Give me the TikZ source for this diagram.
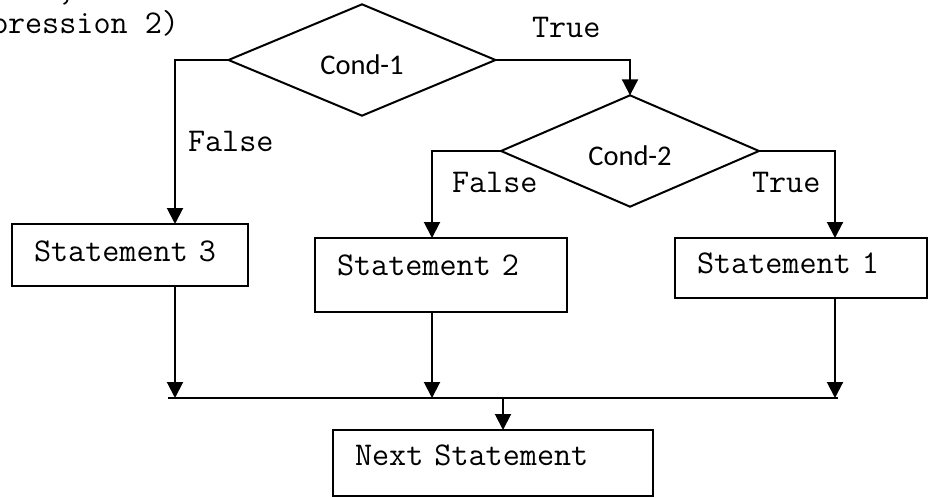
\documentclass[tikz,border=0pt]{standalone}
\usepackage{fontspec}
\newfontfamily\condfont{Carlito}
\newcommand{\codefont}{\ttfamily\fontsize{16.6pt}{19pt}\selectfont}
\usetikzlibrary{arrows.meta,shapes.geometric,positioning}

\begin{document}
\begin{tikzpicture}[x=0.5pt,y=-0.5pt,line width=1pt]
	% styles for the flow chart; all coordinates are given in pixels of the original figure
	\tikzset{
		flow/.style={-{Triangle[width=8pt,length=8pt]}}, % filled arrow heads
		cond/.style={diamond, draw, inner sep=0pt, outer sep=0pt,
			font=\condfont\fontsize{14.25pt}{17pt}\selectfont,
			text height=14pt, text depth=0pt}, % the text sits a bit below the side corners
		stmt/.style={rectangle, draw, anchor=north west, align=left,
			inner xsep=11pt, inner ysep=0pt, outer sep=0pt, font=\codefont},
		tag/.style={inner sep=0pt, font=\codefont},
	}
	\useasboundingbox (0,0) rectangle (932,498);
	% the two tests
	\node[cond, minimum width=133.5pt, minimum height=52pt] (c1) at (362,60) {Cond-1};
	\node[cond, minimum width=129pt, minimum height=51pt] (c2) at (630,151) {Cond-2};
	% the statement boxes, placed by their top left corner
	\node[stmt, text width=96pt, text height=18.5pt, text depth=12.5pt] (s3) at (12,224) {Statement 3};
	\node[stmt, text width=104pt, text height=18.5pt, text depth=18.5pt] (s2) at (315,238) {Statement 2};
	\node[stmt, text width=104pt, text height=17.5pt, text depth=12.5pt] (s1) at (675,238) {Statement 1};
	\node[stmt, text width=138pt, text height=17.5pt, text depth=15.5pt] (nxt) at (333,430) {Next Statement};
	% bends of the branches and the collecting line
	\coordinate (b3) at (175,60);
	\coordinate (b2) at (432,151);
	\coordinate (b1) at (835,151);
	\coordinate (busl) at (168,398);
	\coordinate (busr) at (838,398);
	\coordinate (busm) at (503,398);
	\draw[flow] (c1.east) -| (c2.north);
	\draw[flow] (c1.west) -- (b3) -- (b3 |- s3.north);
	\draw[flow] (c2.west) -- (b2) -- (b2 |- s2.north);
	\draw[flow] (c2.east) -- (b1) -- (b1 |- s1.north);
	\draw[flow] (b3 |- s3.south) -- (b3 |- busl);
	\draw[flow] (b2 |- s2.south) -- (b2 |- busl);
	\draw[flow] (b1 |- s1.south) -- (b1 |- busl);
	\draw (busl) -- (busr);
	\draw[flow] (busm) -- (busm |- nxt.north);
	% branch labels
	\node[tag, anchor=base west] (c1true) at (531,37) {True};
	\node[tag, anchor=base west] (c1false) at (187,151) {False};
	\node[tag, anchor=base west] (c2false) at (451,192) {False};
	\node[tag, anchor=base west] (c2true) at (751,192) {True};
	% text cut off at the top left edge
	\node[tag, anchor=base east] (cut2) at (180,33) {pression 2)};
	\node[tag, anchor=base] (cut1) at (66,0) {,};
\end{tikzpicture}
\end{document}
